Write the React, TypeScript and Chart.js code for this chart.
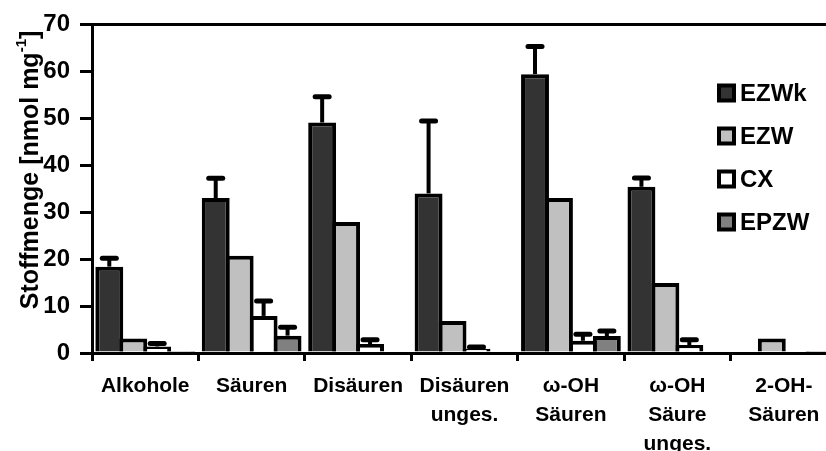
import React, { useEffect, useRef } from 'react';
import { Chart, registerables } from 'chart.js';

Chart.register(...registerables);

const FONT = '"Liberation Sans", Arial, Helvetica, sans-serif';

const categories: string[][] = [
  ['Alkohole'],
  ['Säuren'],
  ['Disäuren'],
  ['Disäuren', 'unges.'],
  ['ω-OH', 'Säuren'],
  ['ω-OH', 'Säure', 'unges.'],
  ['2-OH-', 'Säuren'],
];

const seriesNames = ['EZWk', 'EZW', 'CX', 'EPZW'];
const seriesColors = ['#333333', '#c0c0c0', '#ffffff', '#808080'];

const ezwk = [18.4, 33.0, 49.1, 34.0, 59.4, 35.4, 0];
const ezwkErr = [20.2, 37.2, 54.6, 49.4, 65.3, 37.3, null];
const ezw = [3.1, 20.7, 27.9, 6.8, 33.0, 14.9, 3.1];
const ezwErr = [null, null, null, null, null, null, null];
const cx = [1.4, 7.9, 1.9, 0.9, 2.6, 1.7, 0];
const cxErr = [2.0, 11.1, 2.8, 1.3, 4.0, 2.8, null];
const epzw = [0.4, 3.7, 0, 0, 3.6, 0, 0.4];
const epzwErr = [null, 5.5, null, null, 4.7, null, null];

const yTicksMin = 0;
const yTicksMax = 70;
const yTicksStep = 10;

const seriesValues = [ezwk, ezw, cx, epzw];
const seriesErrors = [ezwkErr, ezwErr, cxErr, epzwErr];

const errorBarPlugin = {
  id: 'errorBars',
  afterDatasetsDraw(chart: any) {
    const ctx = chart.ctx;
    const yScale = chart.scales.y;
    ctx.save();
    ctx.strokeStyle = '#000';
    chart.data.datasets.forEach((ds: any, i: number) => {
      const errs = seriesErrors[i];
      const meta = chart.getDatasetMeta(i);
      meta.data.forEach((bar: any, j: number) => {
        const e = errs[j];
        if (e == null) return;
        const top = bar.y;
        const ey = yScale.getPixelForValue(e);
        ctx.lineCap = 'butt';
        ctx.lineWidth = 4;
        ctx.beginPath();
        ctx.moveTo(bar.x, top);
        ctx.lineTo(bar.x, ey);
        ctx.stroke();
        ctx.lineCap = 'round';
        ctx.lineWidth = 5;
        ctx.beginPath();
        ctx.moveTo(bar.x - 7, ey);
        ctx.lineTo(bar.x + 7, ey);
        ctx.stroke();
      });
    });
    ctx.restore();
  },
};

const legendPlugin = {
  id: 'insideLegend',
  afterDraw(chart: any) {
    const ctx = chart.ctx;
    const x0 = 717;
    const y0 = 93;
    const gap = 43;
    const box = 19;
    ctx.save();
    ctx.font = `bold 24px ${FONT}`;
    ctx.textBaseline = 'middle';
    ctx.textAlign = 'left';
    chart.data.datasets.forEach((ds: any, i: number) => {
      const cy = y0 + i * gap;
      ctx.fillStyle = '#000';
      ctx.fillRect(x0, cy - box / 2, box, box);
      ctx.fillStyle = ds.backgroundColor;
      ctx.fillRect(x0 + 4, cy - box / 2 + 4, box - 8, box - 8);
      ctx.fillStyle = '#000';
      ctx.fillText(ds.label, x0 + 23, cy + 1);
    });
    ctx.restore();
  },
};

const yTitlePlugin = {
  id: 'yTitle',
  afterDraw(chart: any) {
    const ctx = chart.ctx;
    const main = 'Stoffmenge [nmol mg';
    const sup = '-1';
    const end = ']';
    const big = `bold 25px ${FONT}`;
    const small = `bold 15px ${FONT}`;
    ctx.save();
    ctx.font = big;
    const w1 = ctx.measureText(main).width;
    const w3 = ctx.measureText(end).width;
    ctx.font = small;
    const w2 = ctx.measureText(sup).width;
    const total = w1 + w2 + w3;
    ctx.translate(31, 170);
    ctx.rotate(-Math.PI / 2);
    ctx.fillStyle = '#000';
    ctx.textBaseline = 'middle';
    ctx.textAlign = 'left';
    let x = -total / 2;
    ctx.font = big;
    ctx.fillText(main, x, 0);
    x += w1;
    ctx.font = small;
    ctx.fillText(sup, x, -9);
    x += w2;
    ctx.font = big;
    ctx.fillText(end, x, 0);
    ctx.restore();
  },
};

function ChartView() {
  const ref = useRef<HTMLCanvasElement | null>(null);
  useEffect(() => {
    if (!ref.current) return;
    const chart = new Chart(ref.current, {
      type: 'bar',
      data: {
        labels: categories,
        datasets: seriesNames.map((name, i) => ({
          label: name,
          data: seriesValues[i],
          backgroundColor: seriesColors[i],
          borderColor: '#000',
          borderWidth: 4,
          barPercentage: 1.166,
          categoryPercentage: 0.9,
        })),
      },
      options: {
        responsive: false,
        animation: false,
        devicePixelRatio: 1,
        layout: { padding: { top: 24, right: 3, left: 0, bottom: 0 } },
        plugins: {
          legend: { display: false },
          tooltip: { enabled: false },
          title: { display: false },
        },
        scales: {
          x: {
            grid: {
              display: true,
              offset: true,
              drawOnChartArea: false,
              drawTicks: true,
              tickLength: 8,
              color: '#000',
              lineWidth: 3,
            },
            border: { display: true, color: '#000', width: 3 },
            ticks: {
              color: '#000',
              font: { family: FONT, size: 21, weight: 'bold', lineHeight: 1.37 },
              padding: 11,
              maxRotation: 0,
              autoSkip: false,
            },
            afterFit: (s: any) => {
              s.height = 98;
            },
          },
          y: {
            min: yTicksMin,
            max: yTicksMax,
            ticks: {
              stepSize: yTicksStep,
              color: '#000',
              font: { family: FONT, size: 24, weight: 'bold' },
              padding: 10,
            },
            grid: {
              color: (c: any) => (c.tick && c.tick.value === yTicksMax ? '#000' : 'rgba(0,0,0,0)'),
              tickColor: '#000',
              lineWidth: 3,
              tickLength: 12,
              drawTicks: true,
            },
            border: { display: true, color: '#000', width: 3 },
            afterFit: (s: any) => {
              s.width = 92;
            },
          },
        },
      } as any,
      plugins: [errorBarPlugin, legendPlugin, yTitlePlugin],
    });
    return () => chart.destroy();
  }, []);
  return <canvas ref={ref} width={840} height={451} style={{ display: 'block' }} />;
}

export default function App() {
  return (
    <div
      style={{
        position: 'fixed',
        left: 0,
        top: 0,
        width: 826,
        height: 451,
        overflow: 'hidden',
        background: '#fff',
      }}
    >
      <ChartView />
    </div>
  );
}
